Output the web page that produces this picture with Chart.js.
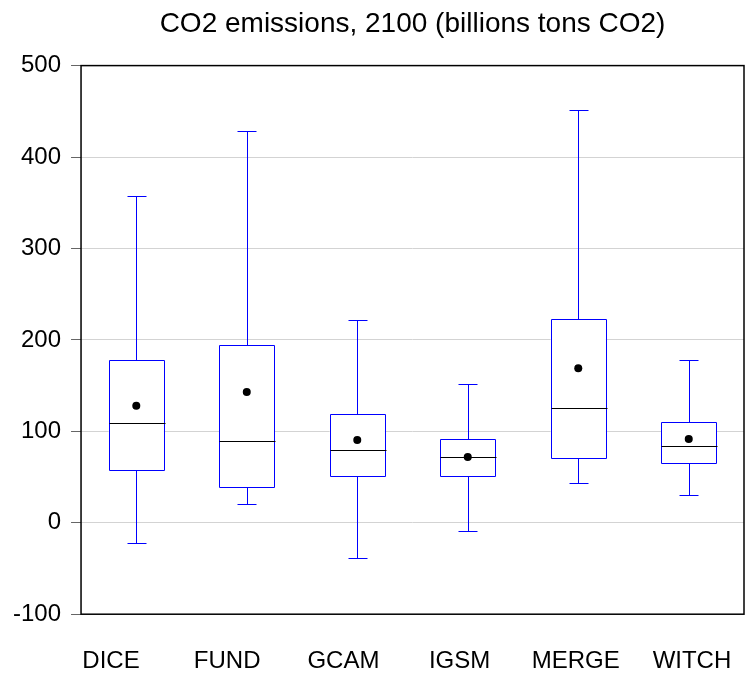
<!DOCTYPE html>
<html>
<head>
<meta charset="utf-8">
<script src="https://cdn.jsdelivr.net/npm/chart.js@4.4.1/dist/chart.umd.min.js"></script>
<style>
  html, body { margin: 0; padding: 0; background: #ffffff; }
  #wrap { width: 748px; height: 677px; }
</style>
</head>
<body>
<div id="wrap"><canvas id="c" width="748" height="677"></canvas></div>
<script>
// ---- data ----
const categories = ['DICE', 'FUND', 'GCAM', 'IGSM', 'MERGE', 'WITCH'];
const mins    = [-22, 20, -39, -9, 44, 30];
const q1s     = [57.5, 38.7, 50.8, 51.6, 71, 65];
const medians = [109, 89, 80, 72, 126, 84.5];
const means   = [128, 143, 90.5, 72, 169, 91.5];
const q3s     = [177.5, 194.5, 119, 91.8, 223, 110];
const maxs    = [357, 428, 222, 152, 451, 178];
const yTicks  = [-100, 0, 100, 200, 300, 400, 500];

const FONT = "'Liberation Sans', Arial, Helvetica, sans-serif";
const BLUE = '#0000ff';

function crisp(v) { return Math.round(v) + 0.5; }

const boxPlugin = {
  id: 'boxExtras',
  afterDatasetDraw(chart, args) {
    if (args.index !== 0) return;
    const ctx = chart.ctx;
    const y = chart.scales.y;
    const meta = chart.getDatasetMeta(0);
    ctx.save();
    ctx.lineWidth = 1;
    meta.data.forEach((bar, i) => {
      const x = crisp(bar.x);
      const half = bar.width / 2;
      const cap = bar.width * 0.175;
      const xl = crisp(bar.x - half), xr = crisp(bar.x + half);
      const yMin = crisp(y.getPixelForValue(mins[i]));
      const yMax = crisp(y.getPixelForValue(maxs[i]));
      const yQ1 = crisp(y.getPixelForValue(q1s[i]));
      const yQ3 = crisp(y.getPixelForValue(q3s[i]));
      const yMed = crisp(y.getPixelForValue(medians[i]));
      ctx.strokeStyle = BLUE;
      ctx.beginPath();
      ctx.moveTo(x, yQ3); ctx.lineTo(x, yMax);
      ctx.moveTo(crisp(bar.x - cap), yMax); ctx.lineTo(crisp(bar.x + cap), yMax);
      ctx.moveTo(x, yQ1); ctx.lineTo(x, yMin);
      ctx.moveTo(crisp(bar.x - cap), yMin); ctx.lineTo(crisp(bar.x + cap), yMin);
      ctx.rect(xl, yQ3, xr - xl, yQ1 - yQ3);
      ctx.stroke();
      ctx.strokeStyle = '#000000';
      ctx.beginPath();
      ctx.moveTo(xl, yMed); ctx.lineTo(xr + 1, yMed);
      ctx.stroke();
    });
    ctx.restore();
  },
  afterDraw(chart) {
    const a = chart.chartArea;
    const ctx = chart.ctx;
    ctx.save();
    ctx.strokeStyle = '#000000';
    ctx.lineWidth = 1.5;
    ctx.strokeRect(a.left, a.top, a.right - a.left, a.bottom - a.top);
    ctx.restore();
  }
};

new Chart(document.getElementById('c'), {
  data: {
    labels: categories,
    datasets: [
      {
        type: 'bar',
        label: 'box',
        data: categories.map((_, i) => [q1s[i], q3s[i]]),
        backgroundColor: '#ffffff',
        borderWidth: 0,
        borderSkipped: false,
        barPercentage: 0.5,
        categoryPercentage: 1.0,
        order: 2
      },
      {
        type: 'line',
        label: 'mean',
        data: means,
        showLine: false,
        pointRadius: 4,
        pointHoverRadius: 4,
        pointBackgroundColor: '#000000',
        pointBorderColor: '#000000',
        pointBorderWidth: 0,
        order: 1
      }
    ]
  },
  options: {
    responsive: false,
    animation: false,
    events: [],
    layout: { padding: { left: 3, right: 4, top: 0, bottom: 1 } },
    plugins: {
      legend: { display: false },
      tooltip: { enabled: false },
      title: {
        display: true,
        text: 'CO2 emissions, 2100 (billions tons CO2)',
        color: '#000000',
        fullSize: false,
        font: { family: FONT, size: 28, weight: 'normal' },
        padding: { top: 7, bottom: 25 }
      }
    },
    scales: {
      x: {
        type: 'category',
        offset: true,
        display: false
      },
      // label axis: the reference spreads the category names a little wider than the boxes
      xLabels: {
        type: 'linear',
        position: 'bottom',
        min: -0.258,
        max: 5.448,
        afterBuildTicks(axis) { axis.ticks = categories.map((_, i) => ({ value: i })); },
        grid: {
          display: true,
          drawOnChartArea: false,
          drawTicks: true,
          tickLength: 33,
          tickColor: 'rgba(0,0,0,0)',
          color: 'rgba(0,0,0,0)'
        },
        border: { display: false },
        ticks: {
          color: '#000000',
          font: { family: FONT, size: 24 },
          padding: 0,
          maxRotation: 0,
          autoSkip: false,
          callback: (v) => categories[v]
        }
      },
      y: {
        type: 'linear',
        min: -100,
        max: 500,
        afterBuildTicks(axis) { axis.ticks = yTicks.map(v => ({ value: v })); },
        grid: {
          color: '#d3d3d3',
          tickColor: '#666666',
          tickLength: 10,
          drawTicks: true
        },
        border: { display: false },
        ticks: {
          color: '#000000',
          font: { family: FONT, size: 24 },
          padding: 10
        }
      }
    }
  },
  plugins: [boxPlugin]
});
</script>
</body>
</html>
